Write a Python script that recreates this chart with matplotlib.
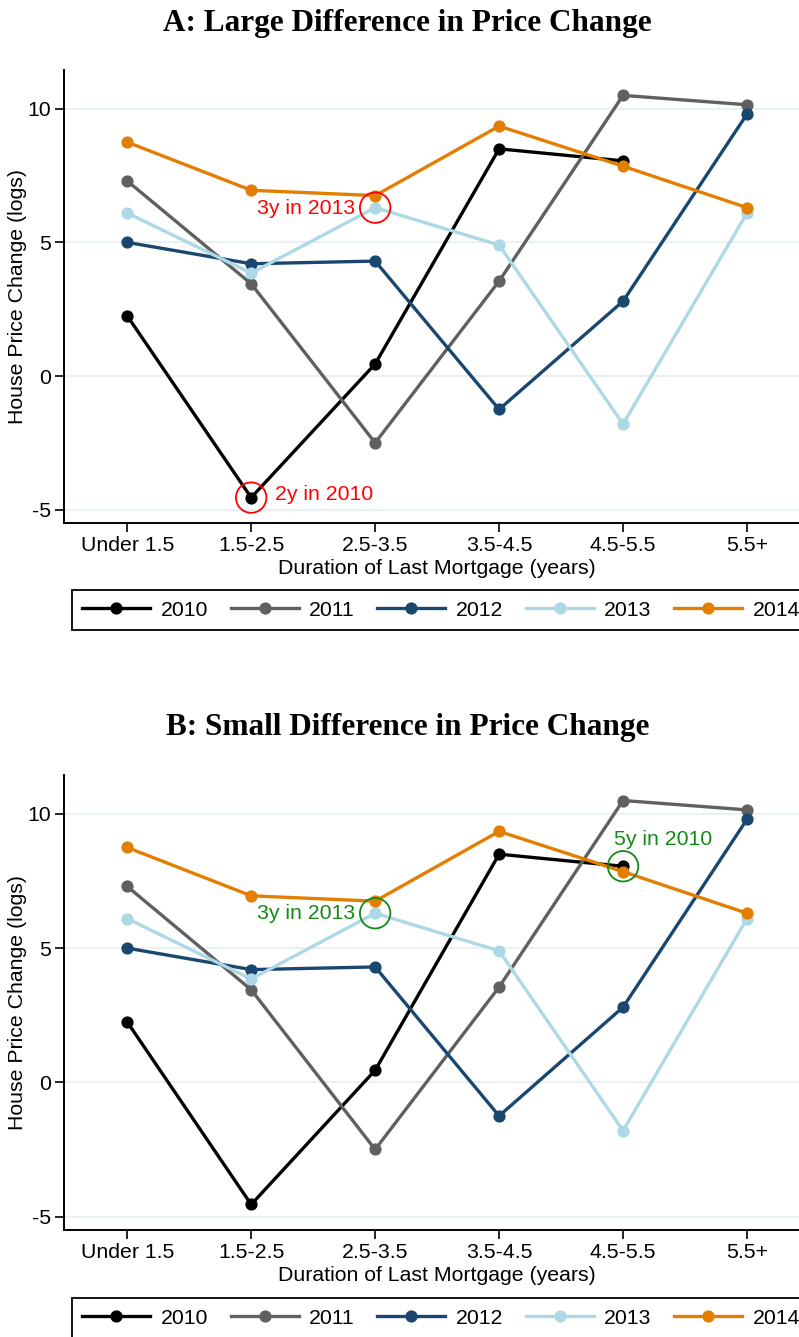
import numpy as np
import matplotlib
matplotlib.use("Agg")
import matplotlib.pyplot as plt

plt.rcParams["font.family"] = ["Liberation Sans", "DejaVu Sans"]
plt.rcParams["axes.unicode_minus"] = False

# data
durations = ["Under 1.5", "1.5-2.5", "2.5-3.5", "3.5-4.5", "4.5-5.5", "5.5+"]
years = ["2010", "2011", "2012", "2013", "2014"]
y2010 = [2.25, -4.55, 0.45, 8.5, 8.05, np.nan]
y2011 = [7.3, 3.45, -2.5, 3.55, 10.5, 10.15]
y2012 = [5.0, 4.2, 4.3, -1.25, 2.8, 9.8]
y2013 = [6.1, 3.85, 6.3, 4.9, -1.8, 6.1]
y2014 = [8.75, 6.95, 6.75, 9.35, 7.85, 6.3]
series = [y2010, y2011, y2012, y2013, y2014]
colors = ["#000000", "#606060", "#1a476f", "#add8e6", "#e37e00"]

W, H = 799, 1337
FS = 15.3


def px(x, y):
    # pixel (from top-left) -> figure fraction
    return x / W, 1 - y / H


def panel(fig, top, bottom, title_base, title, legend_top, notes):
    x0, y0 = px(64, bottom)
    ax = fig.add_axes([x0, y0, (809 - 64) / W, (bottom - top) / H])
    xs = np.arange(1, len(durations) + 1)
    for vals, c, lab in zip(series, colors, years):
        ax.plot(xs, vals, color=c, lw=2.4, marker="o", ms=7.8, label=lab,
                solid_joinstyle="round")
    ax.set_xlim(0.49, 6.5)
    ax.set_ylim(-5.5, 11.45)
    ax.set_yticks([-5, 0, 5, 10])
    ax.set_xticks(xs)
    ax.set_xticklabels(durations)
    ax.tick_params(labelsize=FS, length=6.5, width=1.2, pad=3)
    ax.yaxis.grid(True, color="#eaf1f3", lw=1.5)
    ax.set_axisbelow(True)
    for s in ["top", "right"]:
        ax.spines[s].set_visible(False)
    for s in ["left", "bottom"]:
        ax.spines[s].set_linewidth(1.4)
    ax.set_ylabel("House Price Change (logs)", fontsize=FS, labelpad=0)
    ax.set_xlabel("Duration of Last Mortgage (years)", fontsize=FS, labelpad=3)

    for (cx, cy, tx, ty, txt, ha, col) in notes:
        ax.scatter([cx], [cy], s=480, facecolors="none", edgecolors=col,
                   linewidths=1.3, zorder=5)
        ax.text(tx, ty, txt, color=col, fontsize=FS, ha=ha, va="center", zorder=6)

    tx, ty = px(W / 2 + 8, title_base)
    fig.text(tx, ty, title, ha="center", va="baseline", fontsize=22.5,
             fontweight="bold", family=["Liberation Serif", "DejaVu Serif"])

    leg = ax.legend(loc="upper left", bbox_to_anchor=px(71.7, legend_top),
                    bbox_transform=fig.transFigure, ncol=5, fontsize=FS,
                    frameon=True, fancybox=False, edgecolor="black",
                    framealpha=1, borderaxespad=0, borderpad=0.5,
                    handlelength=3.2, handletextpad=0.5, columnspacing=1.05)
    leg.get_frame().set_linewidth(1.3)
    return ax


fig = plt.figure(figsize=(W / 100, H / 100), dpi=100)

red = "#ff0000"
green = "#138a13"
panel(fig, 70, 523, 31, "A: Large Difference in Price Change", 590, [
    (3, 6.3, 2.84, 6.25, "3y in 2013", "right", red),
    (2, -4.55, 2.19, -4.45, "2y in 2010", "left", red),
])
panel(fig, 775, 1230, 735, "B: Small Difference in Price Change", 1298, [
    (3, 6.3, 2.84, 6.3, "3y in 2013", "right", green),
    (5, 8.05, 5.32, 9.05, "5y in 2010", "center", green),
])

fig.savefig("out.png", dpi=100)
